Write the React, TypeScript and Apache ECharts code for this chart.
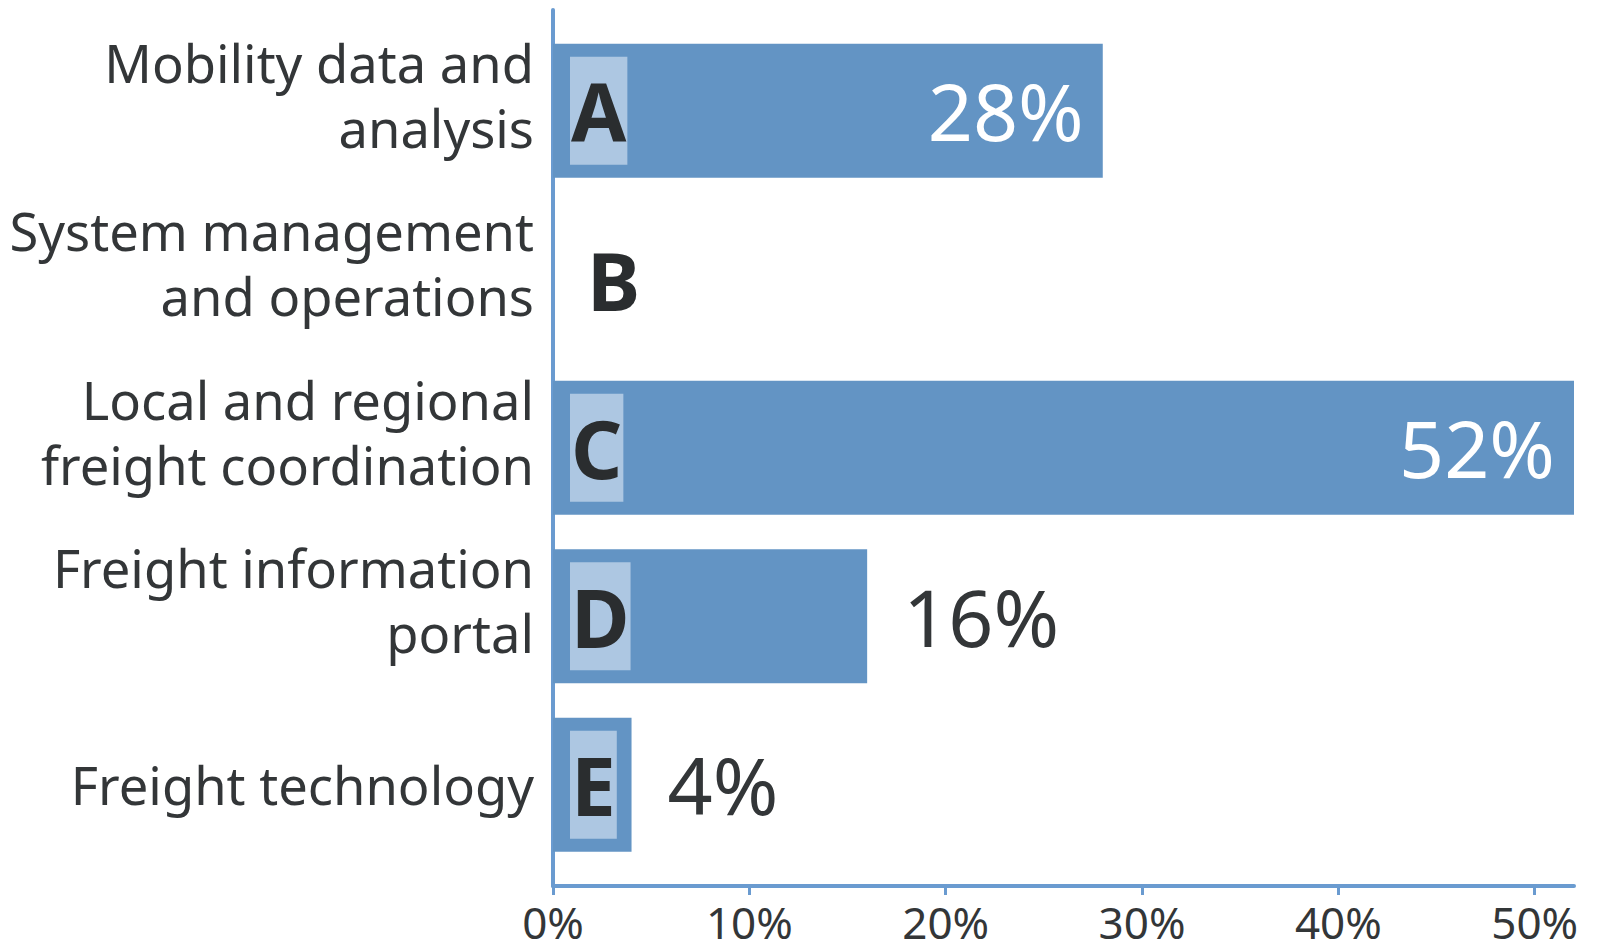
import React, { useEffect, useRef } from "react";
import * as echarts from "echarts";

const categories = [
  "Mobility data and\nanalysis",
  "System management\nand operations",
  "Local and regional\nfreight coordination",
  "Freight information\nportal",
  "Freight technology",
];
const letters = ["A", "B", "C", "D", "E"];
const values = [28, 0, 52, 16, 4];
const xMin = 0;
const xMax = 52;
const xInterval = 10;
const xTicks = [0, 10, 20, 30, 40, 50];

const FONT = "'Noto Sans', sans-serif";
const BAR = "#6394c4";
const AXIS = "#6a9bd0";
const LIGHT = "#adc7e2";
const TEXT = "#333638";
const LETTER = "#2a2d2f";

export default function App() {
  const ref = useRef<HTMLDivElement>(null);

  useEffect(() => {
    if (!ref.current) return;
    const chart = echarts.init(ref.current, null, { renderer: "svg" });
    const left = 553;
    const width = 1021;
    const option: any = {
      animation: false,
      backgroundColor: "#ffffff",
      grid: [
        { left, width, top: 26.4, height: 842.5, containLabel: false, outerBoundsMode: "none" },
        { left, width, top: 10, height: 876, containLabel: false, outerBoundsMode: "none" },
      ],
      xAxis: [
        { gridIndex: 0, type: "value", min: xMin, max: xMax, interval: xInterval, show: false },
        {
          gridIndex: 1,
          type: "value",
          min: xMin,
          max: xMax,
          interval: xInterval,
          axisLine: { show: true, lineStyle: { color: AXIS, width: 4 } },
          axisTick: {
            show: true,
            length: 9,
            customValues: xTicks,
            lineStyle: { color: AXIS, width: 3 },
          },
          splitLine: { show: false },
          axisLabel: {
            customValues: xTicks,
            formatter: "{value}%",
            fontFamily: FONT,
            fontSize: 44,
            lineHeight: 36,
            color: TEXT,
            margin: 18,
          },
        },
      ],
      yAxis: [
        {
          gridIndex: 0,
          type: "category",
          inverse: true,
          data: categories,
          axisLine: { show: false },
          axisTick: { show: false },
          axisLabel: {
            margin: 19,
            align: "right",
            formatter: (val: string) => {
              const lines = val.split("\n");
              const body = lines.map((l) => `{a|${l}}`).join("\n");
              return lines.length > 1 ? body + "\n{s| }" : body;
            },
            rich: {
              a: {
                fontFamily: FONT,
                fontSize: 52.5,
                lineHeight: 65,
                color: TEXT,
              },
              s: { fontSize: 1, lineHeight: 32 },
            },
          },
        },
        {
          gridIndex: 1,
          type: "value",
          min: 0,
          max: 1,
          axisLine: { show: true, lineStyle: { color: AXIS, width: 4 } },
          axisTick: { show: false },
          axisLabel: { show: false },
          splitLine: { show: false },
        },
      ],
      series: [
        {
          type: "bar",
          xAxisIndex: 0,
          yAxisIndex: 0,
          barWidth: 134,
          silent: true,
          itemStyle: { color: BAR },
          label: {
            show: true,
            position: "insideLeft",
            distance: 17,
            formatter: (p: any) => letters[p.dataIndex],
            fontFamily: FONT,
            fontWeight: "bold",
            fontSize: 80,
            color: LETTER,
            backgroundColor: LIGHT,
            padding: [14, 1, 14, 1],
          },
          data: values.map((v) =>
            v === 0
              ? { value: v, label: { backgroundColor: "transparent", offset: [16, 0] } }
              : { value: v }
          ),
        },
        {
          type: "bar",
          xAxisIndex: 0,
          yAxisIndex: 0,
          barWidth: 134,
          barGap: "-100%",
          silent: true,
          itemStyle: { color: "rgba(0,0,0,0)" },
          label: {
            show: true,
            formatter: "{c}%",
            fontFamily: FONT,
            fontSize: 79,
          },
          data: values.map((v) => ({
            value: v,
            label: {
              show: v > 0,
              position: v > 20 ? "insideRight" : "right",
              distance: v > 20 ? 19 : 36,
              color: v > 20 ? "#ffffff" : TEXT,
            },
          })),
        },
      ],
    };
    chart.setOption(option);
    return () => chart.dispose();
  }, []);

  return (
    <div
      ref={ref}
      style={{ position: "absolute", left: 0, top: 0, width: 1599, height: 945 }}
    />
  );
}
